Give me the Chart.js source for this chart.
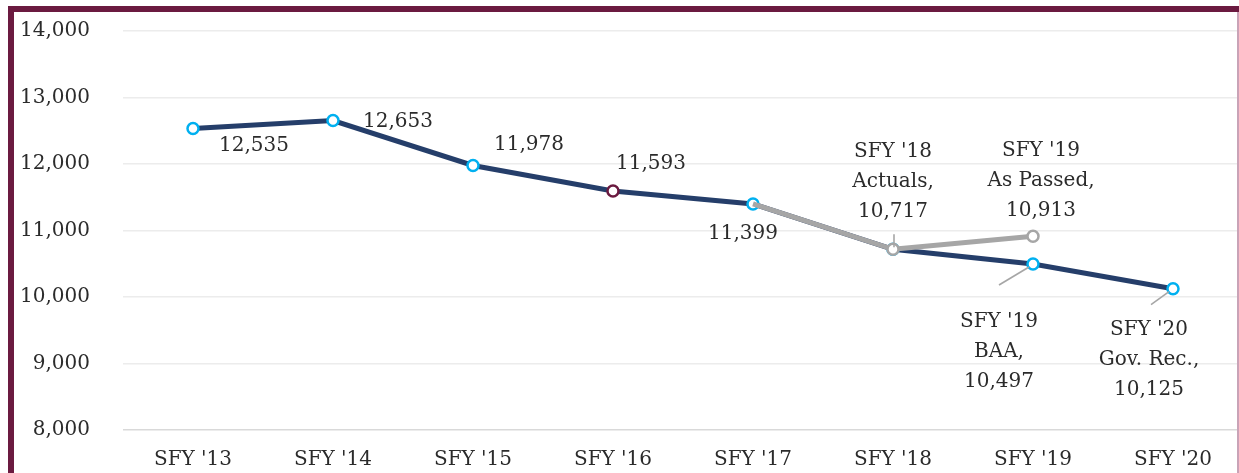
<!DOCTYPE html>
<html>
<head>
<meta charset="utf-8">
<script src="https://cdn.jsdelivr.net/npm/chart.js@4.4.1/dist/chart.umd.min.js"></script>
<style>
  html, body { margin: 0; padding: 0; background: #fff; overflow: hidden; }
  #frame {
    position: absolute; left: 8px; top: 6px; width: 1240px; height: 480px;
    border-left: 6px solid #6b1a40; border-top: 6px solid #6b1a40; z-index: 2;
  }
  #rightEdge { position: absolute; left: 1237px; top: 12px; width: 2px; height: 461px; background: #c9a3b7; z-index: 2; }
  #wrap { position: absolute; left: 14px; top: -14px; width: 1237px; height: 489px; }
</style>
</head>
<body>
<div id="wrap"><canvas id="chart"></canvas></div>
<div id="frame"></div>
<div id="rightEdge"></div>
<script>
const categories = ["SFY '13", "SFY '14", "SFY '15", "SFY '16", "SFY '17", "SFY '18", "SFY '19", "SFY '20"];
const baaValues = [12535, 12653, 11978, 11593, 11399, 10717, 10497, 10125];
const passedValues = [null, null, null, null, 11399, 10717, 10913, null];
const yTicks = [8000, 9000, 10000, 11000, 12000, 13000, 14000];

// label text per point (title lines before the value)
const baaTitles = [[], [], [], [], [], [], ["SFY '19", "BAA,"], ["SFY '20", "Gov. Rec.,"]];
const passedTitles = [[], [], [], [], [], ["SFY '18", "Actuals,"], ["SFY '19", "As Passed,"], []];

const NAVY = "#253e6a";
const GRAY = "#a6a6a6";
const CYAN = "#00b0f0";
const MAROON = "#6b1a40";
const TEXT = "#2b2b2b";
const FONT = "DejaVu Serif";

// label placement relative to the point: dx, dy of first line, optional leader line
const baaLabelPos = [
  { dx: 61, dy: 17 },
  { dx: 65, dy: 1 },
  { dx: 56, dy: -21 },
  { dx: 38, dy: -27 },
  { dx: -10, dy: 30 },
  null,
  { dx: -34, dy: 58, leader: [-34, 21, -4, 3] },
  { dx: -24, dy: 41, leader: [-22, 16, -4, 3] }
];
const passedLabelPos = [
  null, null, null, null, null,
  { dx: 0, dy: -98, leader: [1, -15, 1, -2] },
  { dx: 8, dy: -85 },
  null
];

const fmt = v => v.toLocaleString("en-US");

const labelPlugin = {
  id: "pointLabels",
  afterDatasetsDraw(chart) {
    const ctx = chart.ctx;
    const sets = [
      { meta: chart.getDatasetMeta(1), values: baaValues, titles: baaTitles, pos: baaLabelPos },
      { meta: chart.getDatasetMeta(0), values: passedValues, titles: passedTitles, pos: passedLabelPos }
    ];
    ctx.save();
    ctx.font = "20px '" + FONT + "'";
    ctx.fillStyle = TEXT;
    ctx.textAlign = "center";
    ctx.textBaseline = "middle";
    sets.forEach(s => {
      s.values.forEach((v, i) => {
        const p = s.pos[i];
        if (v === null || !p) return;
        const pt = s.meta.data[i];
        if (p.leader) {
          const [x1, y1, x2, y2] = p.leader;
          ctx.strokeStyle = GRAY;
          ctx.lineWidth = 1.6;
          ctx.beginPath();
          ctx.moveTo(pt.x + x1, pt.y + y1);
          ctx.lineTo(pt.x + x2, pt.y + y2);
          ctx.stroke();
        }
        const lines = s.titles[i].concat([fmt(v)]);
        lines.forEach((t, k) => ctx.fillText(t, pt.x + p.dx, pt.y + p.dy + k * 30));
      });
    });
    ctx.restore();
  }
};

new Chart(document.getElementById("chart"), {
  type: "line",
  data: {
    labels: categories,
    datasets: [
      {
        data: passedValues,
        borderColor: GRAY,
        borderWidth: 5,
        pointRadius: passedValues.map((v, i) => (i === 4 ? 0 : 5.5)),
        pointBackgroundColor: "#fff",
        pointBorderColor: GRAY,
        pointBorderWidth: 2.5,
        tension: 0
      },
      {
        data: baaValues,
        borderColor: NAVY,
        borderWidth: 5,
        pointRadius: 5.5,
        pointBackgroundColor: "#fff",
        pointBorderColor: baaValues.map((v, i) => (i === 3 ? MAROON : CYAN)),
        pointBorderWidth: 2.5,
        tension: 0
      }
    ]
  },
  options: {
    responsive: true,
    maintainAspectRatio: false,
    animation: false,
    layout: { padding: 0 },
    plugins: { legend: { display: false }, tooltip: { enabled: false } },
    scales: {
      x: {
        offset: true,
        grid: { display: false, drawTicks: false },
        border: { display: false },
        ticks: { color: TEXT, font: { family: FONT, size: 20 }, padding: 18, maxRotation: 0 },
        afterFit(scale) { scale.height = 43; }
      },
      y: {
        min: 8000,
        max: 14000,
        afterBuildTicks(scale) { scale.ticks = yTicks.map(v => ({ value: v })); },
        grid: {
          drawTicks: false,
          color: ctx => (ctx.tick && ctx.tick.value === 8000 ? "#d9d9d9" : "#ececec"),
          lineWidth: 1.6
        },
        border: { display: false },
        ticks: { color: TEXT, font: { family: FONT, size: 20 }, padding: 33, callback: v => fmt(v) },
        afterFit(scale) { scale.width = 109; }
      }
    }
  },
  plugins: [labelPlugin]
});
</script>
</body>
</html>
